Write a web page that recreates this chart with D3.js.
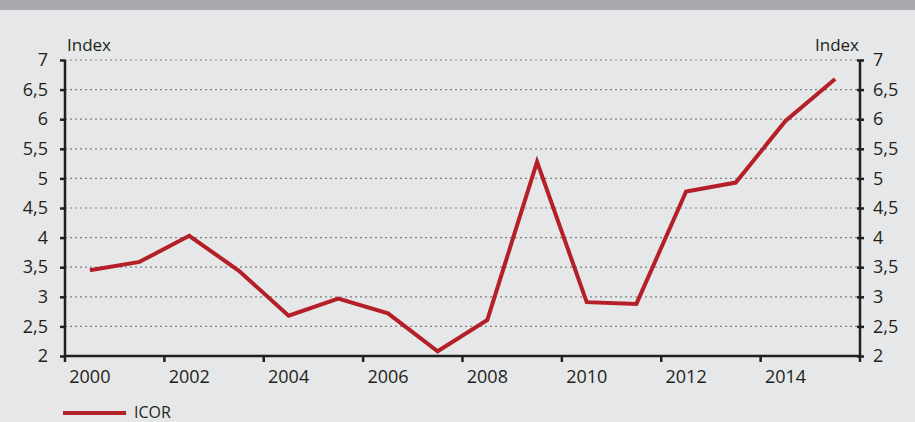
<!DOCTYPE html>
<html>
<head>
<meta charset="utf-8">
<script src="https://cdn.jsdelivr.net/npm/d3@7"></script>
<style>
body { margin: 0; background: #e6e7e8; }
text { font-family: "Open Sans", sans-serif; fill: #231f20; }
</style>
</head>
<body>
<script>
var years = [2000, 2001, 2002, 2003, 2004, 2005, 2006, 2007, 2008, 2009, 2010, 2011, 2012, 2013, 2014, 2015];
var icor = [3.45, 3.59, 4.03, 3.44, 2.68, 2.97, 2.72, 2.08, 2.61, 5.28, 2.91, 2.88, 4.78, 4.93, 5.97, 6.68];
var yTicks = [2, 2.5, 3, 3.5, 4, 4.5, 5, 5.5, 6, 6.5, 7];
var xLabels = [2000, 2002, 2004, 2006, 2008, 2010, 2012, 2014];

var width = 915, height = 422;
var padL = 65, padR = 860, padT = 60, padB = 356;

var svg = d3.select('body').append('svg')
        .attr('width', width)
        .attr('height', height);

svg.append('rect').attr('width', width).attr('height', height).attr('fill', '#e6e7e8');
svg.append('rect').attr('width', width).attr('height', 10).attr('fill', '#a7a9ac');

var x = d3.scaleBand().domain(years).range([padL, padR]).padding(0);
var y = d3.scaleLinear().domain([2, 7]).range([padB, padT]);

var fmt = function (d) { return String(d).replace('.', ','); };

// grid
svg.append('g').selectAll('line')
    .data(yTicks.filter(function (d) { return d > 2; }))
    .enter().append('line')
        .attr('x1', padL).attr('x2', padR)
        .attr('y1', function (d) { return y(d); })
        .attr('y2', function (d) { return y(d); })
        .attr('stroke', '#808080')
        .attr('stroke-width', 1.2)
        .attr('stroke-dasharray', '2,3');

// left axis
var yl = svg.append('g').attr('transform', 'translate(' + padL + ',0)')
    .call(d3.axisLeft(y).tickValues(yTicks).tickFormat(fmt).tickSize(5).tickPadding(12));
// right axis
var yr = svg.append('g').attr('transform', 'translate(' + padR + ',0)')
    .call(d3.axisRight(y).tickValues(yTicks).tickFormat(fmt).tickSize(4).tickPadding(9));
yr.selectAll('.tick line').attr('x1', -3);

// bottom axis
var xa = svg.append('g').attr('transform', 'translate(0,' + padB + ')')
    .call(d3.axisBottom(x).tickValues(xLabels).tickSize(0).tickPadding(14));

[yl, yr, xa].forEach(function (g) {
    g.select('.domain').attr('stroke', '#231f20').attr('stroke-width', 2.5);
    g.selectAll('.tick line').attr('stroke', '#231f20').attr('stroke-width', 2.5);
    g.selectAll('text').style('font-size', '18px').attr('fill', '#231f20')
        .style('font-family', '"Open Sans", sans-serif');
});
xa.select('.domain').attr('d', 'M' + padL + ',0H' + padR);
yl.select('.domain').attr('d', 'M0,' + padT + 'V' + padB);
yr.select('.domain').attr('d', 'M0,' + padT + 'V' + padB);

// x tick marks at every second category boundary
var bounds = xLabels.map(function (d) { return x(d); }).concat([padR]);
svg.append('g').selectAll('line')
    .data(bounds)
    .enter().append('line')
        .attr('x1', function (d) { return d; })
        .attr('x2', function (d) { return d; })
        .attr('y1', padB).attr('y2', padB + 6)
        .attr('stroke', '#231f20').attr('stroke-width', 2.5);

// unit labels
svg.append('text').attr('x', 67).attr('y', 51).text('Index').style('font-size', '17px');
svg.append('text').attr('x', 859).attr('y', 51).attr('text-anchor', 'end').text('Index').style('font-size', '17px');

// series
var line = d3.line()
    .x(function (d, i) { return x(years[i]) + x.bandwidth() / 2; })
    .y(function (d) { return y(d); });

svg.append('path')
    .datum(icor)
    .attr('d', line)
    .attr('fill', 'none')
    .attr('stroke', '#b41f28')
    .attr('stroke-width', 4);

// legend
svg.append('line').attr('x1', 63).attr('x2', 126).attr('y1', 413).attr('y2', 413)
    .attr('stroke', '#b41f28').attr('stroke-width', 4);
svg.append('text').attr('x', 134).attr('y', 418).text('ICOR').style('font-size', '16px');
</script>
</body>
</html>
